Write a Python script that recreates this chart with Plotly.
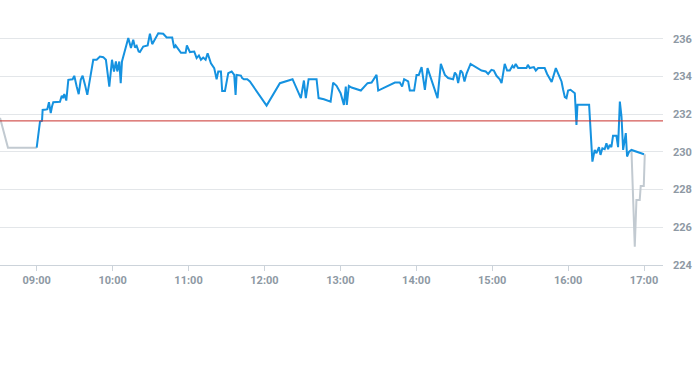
import pandas as pd
import plotly.graph_objects as go

session_date = "2024-01-02"
prev_close = 231.64

# minutes after 09:00 and prices (regular session, blue)
main_minutes = [0, 2.6, 4.2, 4.7, 7.3, 8.4, 9.7, 11.1, 12.1, 13.1, 18.4, 19.8, 20.8, 21.8, 23.4, 25.0, 28.4, 29.7,
    31.6, 33.2, 34.8, 36.3, 38.2, 40.0, 44.7, 47.4, 50.0, 52.6, 54.7, 57.4, 59.5, 61.1, 62.6, 63.7, 65.3, 66.4,
    67.4, 69.8, 72.4, 74.5, 76.3, 77.7, 79.0, 80.6, 81.6, 84.2, 87.7, 89.5, 91.3, 96.1, 100.0, 102.7, 107.1,
    108.7, 109.8, 114.0, 117.7, 118.7, 121.1, 124.5, 126.4, 128.2, 129.8, 131.6, 133.5, 135.1, 137.7, 140.3,
    142.2, 143.5, 145.6, 146.6, 148.8, 151.4, 154.1, 156.1, 157.2, 158.0, 161.4, 162.4, 163.8, 166.4, 168.5,
    181.7, 192.2, 202.2, 208.8, 211.2, 212.7, 214.9, 221.2, 222.8, 227.0, 232.3, 234.3, 237.0, 240.2, 242.8,
    244.3, 245.1, 246.7, 248.9, 256.2, 261.5, 264.7, 268.6, 269.9, 283.1, 287.0, 288.8, 290.4, 293.6, 294.9,
    298.3, 300.2, 302.0, 304.2, 306.8, 308.9, 316.8, 319.4, 322.6, 325.2, 329.1, 330.5, 331.8, 333.1, 335.0,
    336.5, 338.1, 339.7, 342.9, 347.6, 351.6, 354.9, 356.8, 359.4, 361.3, 363.4, 366.0, 367.4, 369.9, 371.8,
    373.9, 376.0, 377.1, 378.6, 380.5, 387.1, 388.2, 389.7, 392.9, 394.5, 396.3, 401.5, 403.4, 407.0, 410.3,
    412.9, 414.8, 416.0, 417.4, 418.7, 420.0, 421.9, 423.9, 425.3, 426.6, 427.4, 436.6, 439.2, 441.0, 442.4,
    444.4, 445.6, 447.1, 448.9, 450.3, 451.6, 452.9, 454.2, 455.5, 458.2, 459.5, 460.9, 462.2, 463.5, 465.6,
    466.6, 468.2, 470.1, 480.0]
main_prices = [230.22, 231.60, 231.64, 232.22, 232.24, 232.26, 232.63, 232.05, 232.40, 232.63, 232.65, 232.97,
    232.85, 233.06, 232.72, 233.82, 233.85, 234.03, 233.46, 233.06, 233.82, 234.04, 233.55, 233.02, 234.88,
    234.88, 235.05, 235.02, 234.88, 233.46, 234.88, 234.26, 234.79, 234.26, 234.79, 233.64, 234.79, 235.32,
    236.03, 235.50, 235.94, 235.53, 235.62, 235.32, 235.29, 235.58, 235.64, 236.26, 235.71, 236.29, 236.26,
    236.06, 236.06, 235.50, 235.64, 235.25, 235.25, 235.64, 235.29, 235.32, 234.97, 235.11, 234.88, 235.00,
    234.88, 235.23, 234.70, 234.44, 233.85, 234.26, 234.26, 233.23, 233.23, 234.17, 234.26, 234.08, 233.02,
    234.08, 234.04, 233.91, 233.85, 233.85, 233.73, 232.45, 233.64, 233.85, 232.85, 233.78, 232.85, 233.85,
    233.85, 232.85, 232.79, 232.66, 233.67, 233.50, 233.11, 232.49, 233.46, 232.49, 233.50, 233.41, 233.25,
    233.64, 233.67, 234.08, 233.25, 233.67, 233.67, 233.46, 233.85, 233.73, 233.25, 233.25, 234.08, 234.08,
    234.49, 233.29, 234.44, 232.85, 234.66, 234.08, 233.91, 233.85, 234.20, 234.08, 233.64, 234.31, 234.20,
    233.73, 234.13, 234.66, 234.49, 234.31, 234.26, 234.13, 234.35, 234.31, 234.03, 233.85, 233.64, 234.66,
    234.31, 234.31, 234.56, 234.44, 234.66, 234.44, 234.44, 234.61, 234.44, 234.49, 234.31, 234.44, 234.44,
    234.13, 233.70, 234.44, 234.03, 233.73, 233.32, 232.90, 232.85, 233.25, 233.29, 233.20, 233.11, 231.43,
    232.49, 232.49, 229.48, 230.10, 229.93, 230.25, 229.84, 230.19, 230.14, 230.46, 230.14, 230.37, 230.25,
    230.85, 230.85, 230.25, 232.66, 231.87, 230.10, 230.99, 229.75, 230.01, 230.10, 229.87]

# pre-market (grey)
pre_minutes = [-29.0, -22.7, 0]
pre_prices = [231.80, 230.22, 230.22]

# post-market (grey)
post_minutes = [470.1, 472.7, 474.0, 476.6, 477.4, 479.8, 480.6]
post_prices = [230.05, 224.97, 227.45, 227.45, 228.19, 228.19, 229.87]

y_ticks = [224, 226, 228, 230, 232, 234, 236]

open_ts = pd.Timestamp(f"{session_date} 09:00")
def to_time(mins):
    return [open_ts + pd.Timedelta(minutes=m) for m in mins]

grey = "#c2cad1"
blue = "#1592e0"
label_col = "#8e99a4"

fig = go.Figure()
fig.add_trace(go.Scatter(x=to_time(pre_minutes), y=pre_prices, mode="lines",
                         line=dict(color=grey, width=2), hoverinfo="skip"))
fig.add_trace(go.Scatter(x=to_time(post_minutes), y=post_prices, mode="lines",
                         line=dict(color=grey, width=2), hoverinfo="skip"))
fig.add_trace(go.Scatter(x=to_time(main_minutes), y=main_prices, mode="lines",
                         line=dict(color=blue, width=2)))
fig.add_hline(y=prev_close, line=dict(color="#c9302c", width=1))

fig.update_layout(
    width=693, height=365,
    margin=dict(l=0, r=30, t=0, b=100),
    plot_bgcolor="white", paper_bgcolor="white",
    showlegend=False,
    font=dict(family="Roboto, Arial, sans-serif", size=11, color=label_col),
)
fig.update_xaxes(
    type="date",
    range=[open_ts - pd.Timedelta(minutes=29), open_ts + pd.Timedelta(minutes=495)],
    tickformat="%H:%M", dtick=3600000, tick0=f"{session_date} 09:00",
    ticks="outside", ticklen=5, tickcolor="#ccd3da",
    showline=True, linecolor="#ccd3da", linewidth=1,
    showgrid=False, zeroline=False,
    tickfont=dict(size=11, color=label_col, weight="bold"),
)
fig.update_yaxes(
    side="right", range=[224, 238.05],
    tickvals=y_ticks, ticktext=[str(v) for v in y_ticks],
    showgrid=True, gridcolor="#e3e6e9", gridwidth=1,
    zeroline=False, showline=False, ticks="",
    ticklabelstandoff=9,
    tickfont=dict(size=11, color=label_col, weight="bold"),
)

fig.write_html("out.html")
